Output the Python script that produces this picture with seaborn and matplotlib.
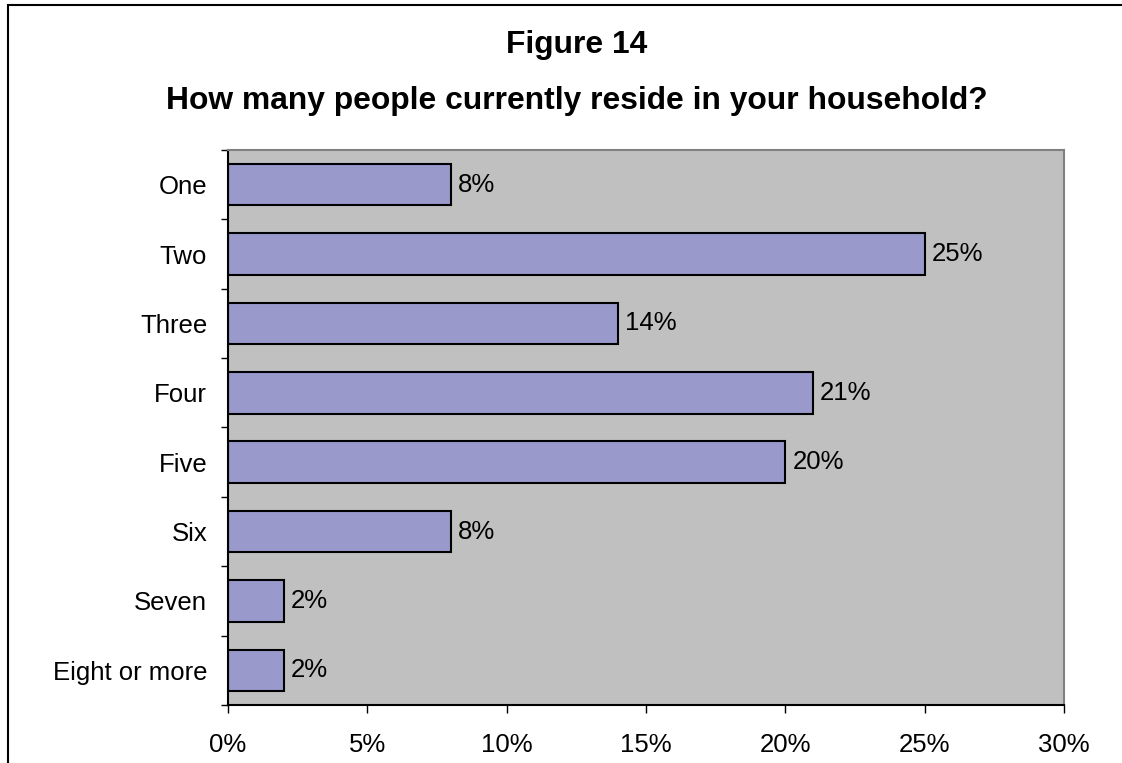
import matplotlib
matplotlib.use("Agg")
import matplotlib.pyplot as plt
import seaborn as sns
import pandas as pd
import numpy as np
from matplotlib.patches import Rectangle
from matplotlib.ticker import FixedLocator, FuncFormatter

categories = ["One", "Two", "Three", "Four", "Five", "Six", "Seven", "Eight or more"]
shares = [8, 25, 14, 21, 20, 8, 2, 2]
x_ticks = [0, 5, 10, 15, 20, 25, 30]

sns.set_theme(style="white")
plt.rcParams["font.family"] = ["Liberation Sans", "DejaVu Sans"]
plt.rcParams["text.color"] = "black"
plt.rcParams["xtick.color"] = "black"
plt.rcParams["ytick.color"] = "black"
plt.rcParams["axes.labelcolor"] = "black"

df = pd.DataFrame({"size": categories, "share": shares})

fig = plt.figure(figsize=(11.22, 7.63), dpi=100)
ax = fig.add_axes([228 / 1122, 1 - 705 / 763, (1064 - 228) / 1122, (705 - 150) / 763])

sns.barplot(data=df, y="size", x="share", orient="h", color="#9999CC",
            saturation=1, width=0.6, edgecolor="black", linewidth=1.5, ax=ax)

ax.set_facecolor("#C0C0C0")
ax.set_xlim(0, 30)
ax.set_ylim(len(categories) - 0.5, -0.5)
ax.set_xlabel("")
ax.set_ylabel("")

ax.xaxis.set_major_locator(FixedLocator(x_ticks))
ax.xaxis.set_major_formatter(FuncFormatter(lambda v, _: f"{v:.0f}%"))
ax.tick_params(axis="x", which="major", direction="out", length=6, width=1,
               color="black", labelsize=18.5, pad=14.5, bottom=True)

# Category labels at bar centres, tick marks at category boundaries
ax.set_yticks(range(len(categories)))
ax.set_yticklabels(categories)
ax.tick_params(axis="y", which="major", length=0, labelsize=18.5, pad=15)
ax.set_yticks(np.arange(-0.5, len(categories) + 0.5, 1), minor=True)
ax.tick_params(axis="y", which="minor", direction="out", length=5, width=1,
               color="black", left=True)

for side in ("top", "right"):
    ax.spines[side].set_color("#808080")
    ax.spines[side].set_linewidth(1.5)
for side in ("left", "bottom"):
    ax.spines[side].set_color("black")
    ax.spines[side].set_linewidth(1.5)

for container in ax.containers:
    ax.bar_label(container, labels=[f"{v}%" for v in shares], padding=5,
                 fontsize=18.5, color="black")

title_x = 577 / 1122
fig.text(title_x, 1 - 45 / 763, "Figure 14", ha="center", va="center",
         fontsize=22.9, fontweight="bold", color="black")
fig.text(title_x, 1 - 101 / 763, "How many people currently reside in your household?",
         ha="center", va="center", fontsize=22.9, fontweight="bold", color="black")

# Chart frame
fig.patches.append(Rectangle((7.5 / 1122, -0.1), 1.2, 1 - 4.5 / 763 + 0.1,
                             transform=fig.transFigure, fill=False,
                             edgecolor="black", linewidth=1.5))

fig.savefig("out.png", dpi=100, facecolor="white")
